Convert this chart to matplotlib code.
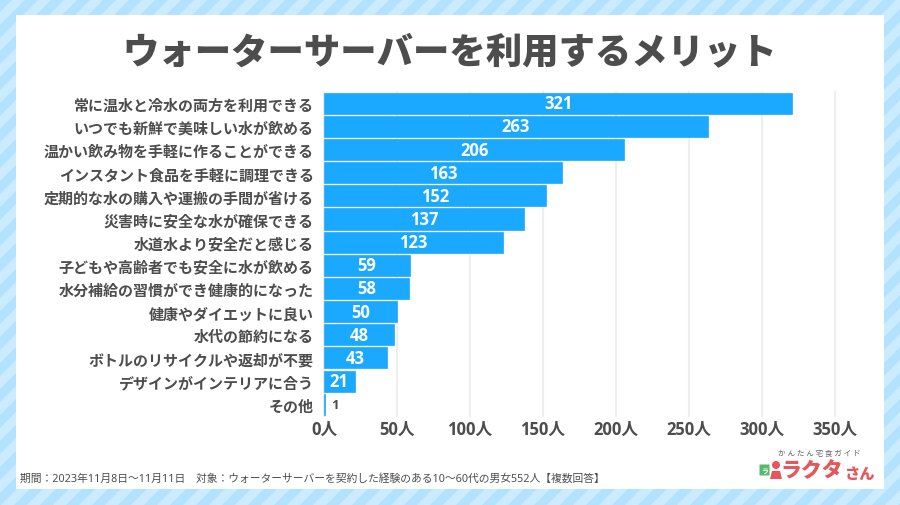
import numpy as np
import matplotlib.pyplot as plt
from matplotlib.patches import Rectangle, Polygon, Circle, FancyBboxPatch

LABELS = ['常に温水と冷水の両方を利用できる', 'いつでも新鮮で美味しい水が飲める', '温かい飲み物を手軽に作ることができる',
          'インスタント食品を手軽に調理できる', '定期的な水の購入や運搬の手間が省ける', '災害時に安全な水が確保できる',
          '水道水より安全だと感じる', '子どもや高齢者でも安全に水が飲める', '水分補給の習慣ができ健康的になった',
          '健康やダイエットに良い', '水代の節約になる', 'ボトルのリサイクルや返却が不要',
          'デザインがインテリアに合う', 'その他']
VALUES = [321, 263, 206, 163, 152, 137, 123, 59, 58, 50, 48, 43, 21, 1]
TICKS = [0, 50, 100, 150, 200, 250, 300, 350]
TITLE = 'ウォーターサーバーを利用するメリット'
FOOTER = '期間：2023年11月8日～11月11日　対象：ウォーターサーバーを契約した経験のある10～60代の男女552人【複数回答】'

W, H = 900, 506
GRAY = '#4d4d4d'
BLUE = '#1aa9ff'
RED = '#e8555a'
LATIN = ['Open Sans', 'Noto Sans CJK JP']

plt.rcParams['font.family'] = ['Noto Sans CJK JP', 'DejaVu Sans']

fig = plt.figure(figsize=(W / 100, H / 100), dpi=100)

# 背景のストライプと白パネル（ピクセル座標）
bg = fig.add_axes([0, 0, 1, 1])
bg.set_xlim(0, W)
bg.set_ylim(H, 0)
bg.axis('off')
bg.add_patch(Rectangle((0, 0), W, H, color='#cbebff', lw=0))
step = 26
for x0 in np.arange(-H, W + H, step):
    bg.add_patch(Polygon([(x0, H), (x0 + 13, H), (x0 + 13 + H, 0), (x0 + H, 0)], color='#b3e2ff', lw=0))
bg.add_patch(Rectangle((16, 16), 868, 474, color='white', lw=0, zorder=3))

bg.text(450, 52.5, TITLE, ha='center', va='center', fontsize=26.2, fontweight='black', color=GRAY, zorder=4)
bg.text(20, 479.5, FOOTER, ha='left', va='center', fontsize=7.75, color=GRAY, zorder=4,
        family=['Noto Sans', 'Noto Sans CJK JP'])

# ロゴ
bg.text(819.5, 454.5, 'か ん た ん 宅 食 ガ イ ド', ha='center', va='center', fontsize=5.5, color='#666666', zorder=4)
bg.text(843, 471.5, 'ラクタ', ha='right', va='center', fontsize=15, fontweight='black', color=RED, zorder=4)
bg.text(875.5, 474, 'さん', ha='right', va='center', fontsize=11, fontweight='black', color=RED, zorder=4)
bg.add_patch(FancyBboxPatch((760, 466), 9, 10, boxstyle='round,pad=0.5', color='#56b96d', lw=0, zorder=4))
bg.text(764.5, 471, 'ラ', ha='center', va='center', fontsize=5, fontweight='bold', color='white', zorder=5)
bg.add_patch(Circle((776, 466), 4, color=RED, lw=0, zorder=4))
bg.add_patch(Polygon([(770, 480), (772, 472), (780, 472), (782, 480)], color=RED, lw=0, zorder=4))

# 横棒グラフ
left, right, top, bottom = 324, 834.5, 92.7, 416.8
ax = fig.add_axes([left / W, 1 - bottom / H, (right - left) / W, (bottom - top) / H])
ax.patch.set_alpha(0)
y = np.arange(len(VALUES))
ax.barh(y, VALUES, height=0.91, color=BLUE, edgecolor=BLUE, linewidth=0.5, zorder=3)
ax.set_xlim(0, 350)
ax.set_ylim(len(VALUES) - 0.5, -0.5)
ax.set_xticks(TICKS)
ax.set_xticklabels([f'{t}人' for t in TICKS], fontsize=12, fontweight='bold', color=GRAY, family=LATIN)
ax.set_yticks(y)
ax.set_yticklabels(LABELS, fontsize=10.8, fontweight='bold', color=GRAY)
ax.tick_params(axis='both', length=0)
ax.tick_params(axis='x', pad=3)
ax.tick_params(axis='y', pad=7.5)
ax.grid(axis='x', color='#eeeeee', linewidth=1.5, zorder=0)
ax.set_axisbelow(True)
for s in ax.spines.values():
    s.set_visible(False)
for t in ax.get_xgridlines():
    t.set_clip_on(False)

for i, v in zip(y, VALUES):
    if v < 10:
        ax.text(v + 4, i, str(v), ha='left', va='center', fontsize=9.5, fontweight='bold', color=GRAY, zorder=4,
                family=LATIN)
    else:
        ax.text(v / 2, i, str(v), ha='center', va='center', fontsize=12, fontweight='bold', color='white', zorder=4,
                family=LATIN)

fig.savefig('out.png', dpi=100)
